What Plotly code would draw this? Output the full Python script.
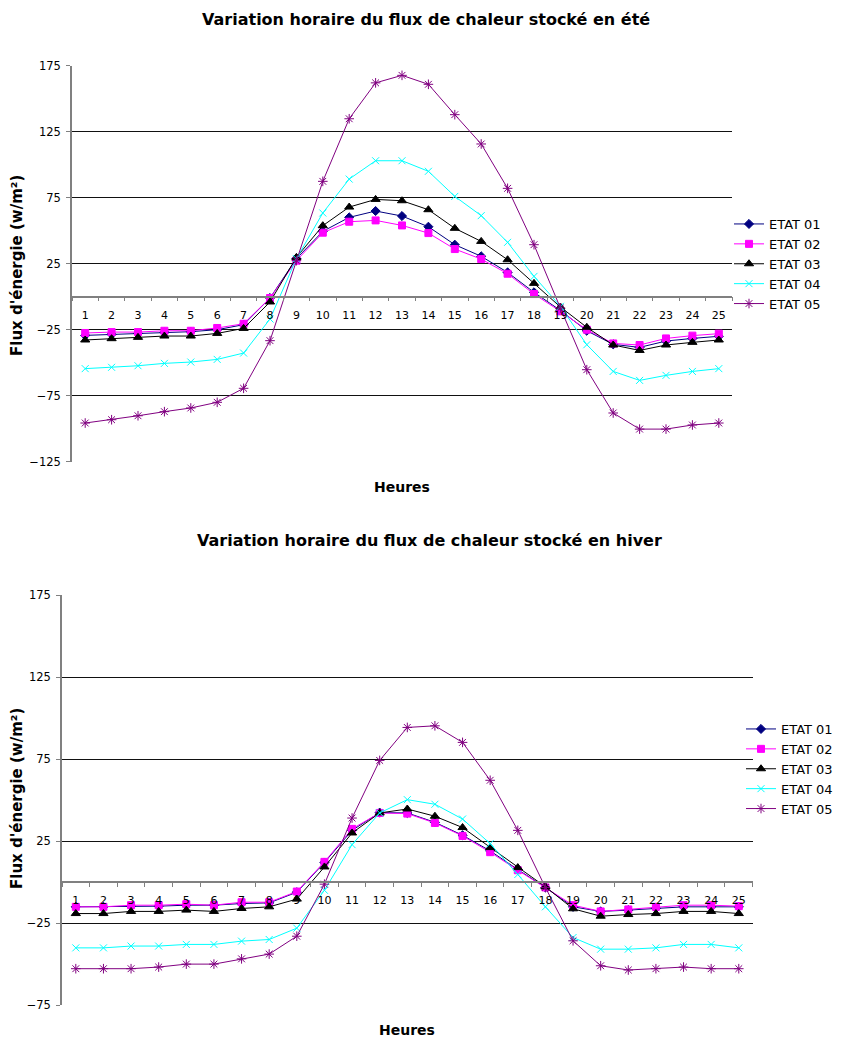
import plotly.graph_objects as go

hours = [str(h) for h in range(1, 26)]
series_names = ["ETAT 01", "ETAT 02", "ETAT 03", "ETAT 04", "ETAT 05"]

ete_01 = [-29.3, -28.5, -27.8, -27.0, -26.5, -25.0, -21.2, -1.0, 28.8, 49.5, 60.1, 64.9, 61.1, 53.0, 39.4, 30.6, 18.4, 3.3, -10.4, -25.8, -36.1, -38.4, -33.6, -31.6, -30.0]
ete_02 = [-27.5, -26.8, -26.8, -25.8, -25.8, -23.7, -20.5, -1.0, 27.3, 48.5, 56.8, 57.8, 54.0, 48.2, 36.1, 28.5, 17.4, 2.0, -11.1, -25.0, -35.4, -36.6, -31.6, -29.5, -28.0]
ete_03 = [-32.8, -31.8, -30.8, -29.8, -29.8, -27.8, -24.0, -4.0, 29.8, 53.8, 67.9, 73.7, 72.7, 65.9, 51.8, 41.9, 28.0, 10.1, -7.8, -23.2, -36.6, -40.7, -36.6, -34.6, -32.8]
ete_04 = [-54.5, -53.5, -52.3, -50.5, -49.5, -47.5, -42.7, -16.9, 28.8, 63.4, 89.1, 103.0, 103.0, 95.0, 76.0, 61.4, 41.2, 15.4, -7.3, -36.4, -56.6, -63.4, -59.6, -56.6, -54.5]
ete_05 = [-95.7, -93.2, -90.2, -87.1, -84.3, -80.0, -69.4, -33.3, 27.3, 87.4, 134.8, 162.0, 167.7, 160.9, 137.9, 115.7, 82.1, 39.4, -8.6, -55.3, -88.1, -100.3, -100.3, -97.2, -95.7]

hiver_01 = [-15.0, -15.0, -14.6, -14.6, -14.0, -14.0, -13.0, -12.6, -6.1, 12.0, 31.6, 42.4, 42.2, 36.5, 28.6, 19.1, 7.7, -3.2, -15.0, -17.8, -17.0, -15.8, -15.0, -15.0, -15.0]
hiver_02 = [-15.0, -15.0, -14.0, -14.0, -13.4, -14.0, -12.2, -12.2, -5.7, 12.4, 32.5, 42.2, 41.8, 36.1, 28.2, 18.3, 7.3, -3.2, -14.0, -17.8, -16.6, -15.0, -14.0, -14.0, -14.6]
hiver_03 = [-19.1, -19.1, -17.8, -17.8, -17.0, -17.8, -16.0, -15.0, -10.3, 9.3, 30.0, 42.2, 44.6, 40.2, 33.3, 21.1, 8.9, -2.8, -16.2, -20.7, -19.7, -19.1, -17.8, -17.8, -19.1]
hiver_04 = [-40.0, -40.0, -38.9, -38.9, -37.9, -37.9, -35.9, -34.9, -28.0, -4.9, 22.9, 42.2, 50.3, 47.5, 38.5, 23.5, 4.7, -15.0, -33.7, -40.8, -40.8, -40.0, -37.9, -37.9, -40.0]
hiver_05 = [-52.7, -52.7, -52.7, -51.7, -49.9, -49.9, -46.7, -43.8, -32.9, -1.2, 39.1, 74.2, 94.3, 95.3, 85.2, 62.1, 31.6, -3.2, -35.7, -50.9, -53.5, -52.7, -51.7, -52.7, -52.7]

y_ticks = [175, 125, 75, 25, -25, -75, -125]
y_ticks_hiver = [175, 125, 75, 25, -25, -75]

titles = ["Variation horaire du flux de chaleur stocké en été",
          "Variation horaire du flux de chaleur stocké en hiver"]

colors = ["#000080", "#FF00FF", "#000000", "#00FFFF", "#800080"]
symbols = ["diamond", "square", "triangle-up", "x-thin-open", "asterisk-open"]
sizes = [7, 7, 8, 7, 8]

FONT = "'DejaVu Sans', Verdana, sans-serif"

# the page body has an 8px margin: the figure is laid out in page pixels minus that offset
OFF = 8
W, H = 855 - OFF, 1038 - OFF


def px_x(p):
    return (p - OFF) / W


def px_y(p):
    return 1 - (p - OFF) / H


fig = go.Figure()

panels = [
    dict(l=72, r=732, t=65.7, b=461.7, rng=[-125, 175], ticks=y_ticks, data=[ete_01, ete_02, ete_03, ete_04, ete_05],
         legend="legend", title_x=426, title_y=20, heures_y=487, ylab_y=266),
    dict(l=62, r=752.6, t=595, b=1005.3, rng=[-75, 175], ticks=y_ticks_hiver, data=[hiver_01, hiver_02, hiver_03, hiver_04, hiver_05],
         legend="legend2", title_x=429, title_y=540, heures_y=1030, ylab_y=799),
]

annotations = []
for i, p in enumerate(panels):
    xa = "x" if i == 0 else "x2"
    ya = "y" if i == 0 else "y2"
    for k, name in enumerate(series_names):
        fig.add_trace(go.Scatter(
            x=hours, y=p["data"][k], name=name, mode="lines+markers",
            xaxis=xa, yaxis=ya, legend=p["legend"],
            line=dict(color=colors[k], width=1),
            marker=dict(symbol=symbols[k], size=sizes[k], color=colors[k],
                        line=dict(color=colors[k], width=1)),
        ))
    xd = [px_x(p["l"]), px_x(p["r"])]
    yd = [px_y(p["b"]), px_y(p["t"])]
    r0, r1 = p["rng"]
    zero_pos = yd[0] + (0 - r0) / (r1 - r0) * (yd[1] - yd[0])
    suffix = "" if i == 0 else "2"
    fig.update_layout(**{
        "xaxis" + suffix: dict(
            domain=xd, type="category", anchor="free", position=zero_pos,
            showline=True, linecolor="#808080", linewidth=1.5,
            ticks="outside", ticklen=4, tickcolor="#808080", tickson="boundaries",
            ticklabelstandoff=8, automargin=False,
            showgrid=False, zeroline=False, range=[-0.5, 24.5],
            tickfont=dict(family=FONT, size=11, color="black"),
        ),
        "yaxis" + suffix: dict(
            domain=yd, anchor=xa, range=[r0, r1], tickvals=p["ticks"],
            showline=True, linecolor="#808080", linewidth=1.5,
            ticks="outside", ticklen=4, tickcolor="#808080",
            ticklabelstandoff=3, automargin=False,
            showgrid=True, gridcolor="#111111", gridwidth=1, zeroline=False,
            tickfont=dict(family=FONT, size=11.5, color="black"),
        ),
    })
    cx = (p["l"] + p["r"]) / 2
    annotations.append(dict(text="<b>" + titles[i] + "</b>", x=px_x(p["title_x"]), y=px_y(p["title_y"]),
                            xref="paper", yref="paper", showarrow=False, xanchor="center", yanchor="middle",
                            font=dict(family=FONT, size=16, color="black")))
    annotations.append(dict(text="<b>Heures</b>", x=px_x(cx), y=px_y(p["heures_y"]),
                            xref="paper", yref="paper", showarrow=False, xanchor="center", yanchor="middle",
                            font=dict(family=FONT, size=14, color="black")))
    annotations.append(dict(text="<b>Flux d'énergie (w/m²)</b>", x=px_x(17), y=px_y(p["ylab_y"]),
                            xref="paper", yref="paper", showarrow=False, xanchor="center", yanchor="middle",
                            textangle=-90, font=dict(family=FONT, size=15, color="black")))

fig.update_layout(
    width=W, height=H, margin=dict(l=0, r=0, t=0, b=0, autoexpand=False),
    paper_bgcolor="white", plot_bgcolor="white",
    font=dict(family=FONT, size=12, color="black"),
    annotations=annotations,
    legend=dict(x=px_x(729), y=px_y(209), xanchor="left", yanchor="top", bgcolor="rgba(0,0,0,0)",
                font=dict(family=FONT, size=13, color="black"), itemwidth=30, tracegroupgap=0),
    legend2=dict(x=px_x(741), y=px_y(714), xanchor="left", yanchor="top", bgcolor="rgba(0,0,0,0)",
                 font=dict(family=FONT, size=13, color="black"), itemwidth=30, tracegroupgap=0),
)

fig.write_html("out.html")
